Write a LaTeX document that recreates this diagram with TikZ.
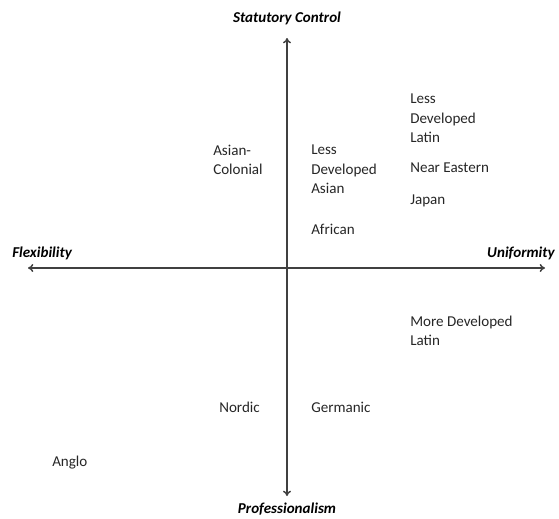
\documentclass[tikz,border=0pt]{standalone}
\usepackage{fontspec}
\setmainfont{Carlito}
\usetikzlibrary{arrows.meta}
\begin{document}
\begin{tikzpicture}[x=0.75pt,y=-0.75pt,
  lbl/.style={anchor=north west,inner sep=0pt,align=left,font=\fontsize{11.3}{14.4}\selectfont,text=black!85},
  axislbl/.style={inner sep=0pt,font=\fontsize{11.3}{14}\selectfont\bfseries\itshape},
  axis/.style={draw=black!75,line width=1.1pt,{To[length=4pt,width=6pt]}-{To[length=4pt,width=6pt]}}]
\useasboundingbox (0,0) rectangle (559,518);
% axis end points
\coordinate (top) at (287,38);
\coordinate (bot) at (287,496);
\coordinate (lft) at (28,268);
\coordinate (rgt) at (545,268);
\draw[axis] (bot) -- (top);
\draw[axis] (lft) -- (rgt);
% axis labels
\node[axislbl,anchor=base] (sc) at (287,22) {Statutory Control};
\node[axislbl,anchor=base] (pr) at (287,513) {Professionalism};
\node[axislbl,anchor=base west] (fl) at (12,257) {Flexibility};
\node[axislbl,anchor=base east] (un) at (555,257) {Uniformity};
% group labels
\node[lbl] (ldl) at (410,94) {Less\\Developed\\Latin};
\node[lbl] (ne) at (410,163) {Near Eastern};
\node[lbl] (jp) at (410,195) {Japan};
\node[lbl] (ac) at (213,145) {Asian-\\Colonial};
\node[lbl] (lda) at (311,145) {Less\\Developed\\Asian};
\node[lbl] (af) at (311,224) {African};
\node[lbl] (mdl) at (410,316) {More Developed\\Latin};
\node[lbl] (no) at (219,402) {Nordic};
\node[lbl] (ge) at (311,402) {Germanic};
\node[lbl] (an) at (52,456) {Anglo};
\end{tikzpicture}
\end{document}
